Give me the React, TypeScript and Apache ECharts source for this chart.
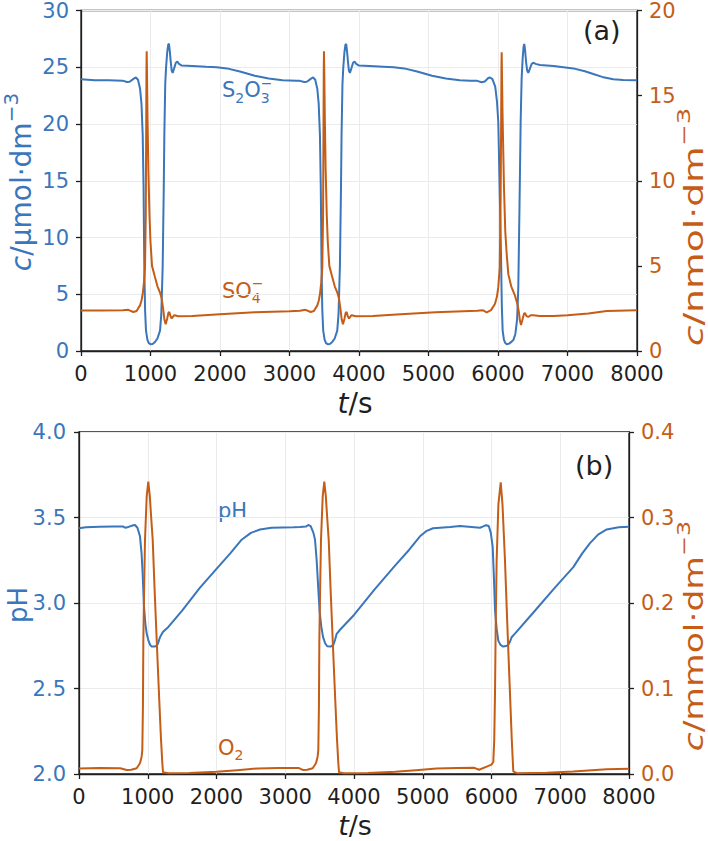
import React, { useEffect, useRef } from "react";
import * as echarts from "echarts";

const FONT = "DejaVu Sans";
const BLUE = "#3a76bb";
const ORANGE = "#c55d17";
const INK = "#1f1f1f";
const GRIDLINE = "#ebebeb";

// ---- panel (a): thiosulfate (µmol/dm3, left axis) ----
const tS2O3 = [
  0, 200, 400, 600, 660, 700, 760, 790, 820, 850, 870, 888, 900, 911, 922, 935, 955, 975, 1000, 1030,
  1065, 1100, 1137, 1155, 1175, 1190, 1199, 1212, 1223, 1240, 1255, 1266, 1278, 1291, 1305, 1319, 1340,
  1365, 1386, 1410, 1449, 1600, 1800, 1953, 2100, 2300, 2500, 2700, 2900, 3100,
  3150, 3210, 3250, 3310, 3340, 3370, 3400, 3420, 3438, 3450, 3461, 3472, 3485, 3505, 3525, 3550, 3580,
  3615, 3650, 3687, 3705, 3725, 3740, 3749, 3762, 3773, 3790, 3805, 3816, 3828, 3841, 3855, 3869, 3890,
  3915, 3936, 3960, 3999, 4150, 4350, 4500, 4650, 4850, 5050, 5250, 5450, 5600, 5700,
  5765, 5810, 5860, 5885, 5920, 5960, 5985, 6004, 6020, 6043, 6055, 6067, 6085, 6105, 6125, 6160, 6200,
  6221, 6250, 6275, 6292, 6310, 6326, 6340, 6355, 6368, 6378, 6390, 6405, 6420, 6436, 6460, 6485, 6508,
  6540, 6604, 6800, 7084, 7250, 7371, 7500, 7659, 7800, 8000,
];
const s2o3 = [
  23.95, 23.85, 23.85, 23.82, 23.7, 23.72, 24.0, 24.1, 23.9, 23.1, 21.8, 19.0, 14.5, 7.4, 3.6, 1.8, 1.0, 0.7, 0.6, 0.62,
  0.8, 1.1, 1.8, 3.2, 7.4, 14.0, 19.0, 23.5, 24.9, 26.3, 27.0, 27.06, 26.4, 25.5, 24.7, 24.5, 24.9,
  25.4, 25.5, 25.3, 25.15, 25.12, 25.05, 25.0, 24.9, 24.6, 24.25, 24.0, 23.85, 23.8,
  23.8, 23.7, 23.72, 24.0, 24.1, 23.9, 23.1, 21.8, 19.0, 14.5, 7.4, 3.6, 1.8, 1.0, 0.7, 0.6, 0.62,
  0.8, 1.1, 1.8, 3.2, 7.4, 14.0, 19.0, 23.5, 24.9, 26.3, 27.0, 27.04, 26.4, 25.5, 24.7, 24.5, 24.9,
  25.4, 25.5, 25.3, 25.15, 25.12, 25.05, 25.0, 24.9, 24.6, 24.25, 24.0, 23.85, 23.82, 23.8,
  23.68, 23.75, 24.05, 24.1, 23.95, 23.3, 22.0, 20.2, 15.5, 8.6, 4.0, 1.8, 1.0, 0.7, 0.6, 0.65, 0.85,
  0.96, 1.5, 2.8, 5.6, 13.0, 20.2, 24.0, 25.8, 26.8, 27.06, 26.5, 25.4, 24.7, 24.5, 24.9, 25.3, 25.4,
  25.3, 25.2, 25.1, 24.9, 24.65, 24.4, 24.15, 23.95, 23.88, 23.86,
];

// ---- panel (a): sulfate (nmol/dm3, right axis) ----
const tSO4 = [
  0, 300, 600, 680, 753, 800, 849, 870, 888, 905, 921, 932, 938, 942, 945, 950, 958, 969, 985, 1000,
  1022, 1060, 1100, 1140, 1160, 1185, 1200, 1218, 1240, 1258, 1270, 1288, 1305, 1322, 1338, 1360, 1400,
  1600, 2000, 2500, 3000, 3150,
  3231, 3304, 3351, 3400, 3421, 3439, 3456, 3472, 3483, 3489, 3493, 3496, 3501, 3509, 3520, 3536, 3551,
  3573, 3611, 3651, 3691, 3711, 3736, 3751, 3769, 3791, 3809, 3821, 3839, 3856, 3873, 3889, 3911, 3951,
  4200, 4600, 5100, 5500, 5700,
  5780, 5837, 5900, 5957, 5985, 6004, 6025, 6038, 6046, 6050, 6053, 6058, 6065, 6086, 6105, 6125, 6149,
  6190, 6240, 6278, 6300, 6315, 6331, 6355, 6375, 6388, 6410, 6436, 6470, 6508, 6600, 6800, 7000, 7300,
  7564, 8000,
];
const so4 = [
  2.38, 2.38, 2.4, 2.42, 2.29, 2.35, 2.68, 2.95, 3.36, 4.0, 4.9, 8.0, 13.0, 16.5, 17.6, 16.2, 13.5, 10.7, 8.0, 6.4,
  5.0, 4.4, 3.8, 3.4, 3.1, 2.39, 1.85, 1.57, 1.9, 2.25, 2.29, 2.05, 1.91, 2.0, 2.1, 2.08, 2.04,
  2.06, 2.16, 2.28, 2.34, 2.36,
  2.42, 2.29, 2.35, 2.68, 2.95, 3.36, 4.0, 4.9, 8.0, 13.0, 16.5, 17.6, 16.2, 13.5, 10.7, 8.0, 6.4,
  5.0, 4.4, 3.8, 3.4, 3.1, 2.39, 1.85, 1.57, 1.9, 2.25, 2.29, 2.05, 1.91, 2.0, 2.1, 2.08, 2.04,
  2.06, 2.16, 2.28, 2.34, 2.36,
  2.4, 2.27, 2.4, 2.78, 3.2, 3.75, 4.9, 9.0, 14.0, 16.8, 17.55, 16.0, 14.0, 9.6, 7.0, 5.7, 4.5,
  3.8, 3.3, 2.78, 2.3, 1.8, 1.52, 1.9, 2.2, 2.23, 2.05, 2.0, 2.1, 2.1, 2.05, 2.05, 2.1, 2.2,
  2.35, 2.39,
];

// ---- panel (b): pH (left axis) ----
const tPH = [
  0, 100, 300, 500, 645, 670, 720, 790, 815, 850, 887, 910, 926, 945, 965, 985, 1010, 1035, 1057, 1100,
  1130, 1150, 1178, 1220, 1300, 1500, 1760, 2000, 2200, 2366, 2500, 2633, 2800, 3118, 3215,
  3300, 3335, 3370, 3410, 3433, 3457, 3481, 3500, 3525, 3550, 3580, 3610, 3660, 3700, 3725, 3748, 3800,
  4000, 4300, 4600, 4800, 4960, 5050, 5150, 5400, 5542, 5833,
  5880, 5920, 5960, 5990, 6017, 6035, 6051, 6075, 6099, 6130, 6172, 6210, 6244, 6270, 6293, 6350, 6600,
  6900, 7190, 7320, 7433, 7550, 7676, 7850, 8000,
];
const ph = [
  3.437, 3.443, 3.446, 3.447, 3.447, 3.44, 3.445, 3.455, 3.456, 3.44, 3.39, 3.29, 3.17, 2.98, 2.88, 2.82, 2.78, 2.755, 2.745, 2.745,
  2.75, 2.765, 2.8, 2.83, 2.86, 2.955, 3.09, 3.2, 3.29, 3.37, 3.41, 3.43, 3.44, 3.443, 3.445,
  3.447, 3.456, 3.45, 3.41, 3.37, 3.25, 3.08, 2.95, 2.86, 2.8, 2.765, 2.747, 2.745, 2.755, 2.785, 2.82, 2.845,
  2.93, 3.08, 3.22, 3.31, 3.39, 3.42, 3.437, 3.445, 3.45, 3.44,
  3.448, 3.455, 3.45, 3.41, 3.33, 3.15, 2.96, 2.85, 2.78, 2.755, 2.745, 2.748, 2.755, 2.775, 2.8, 2.825, 2.94,
  3.08, 3.21, 3.29, 3.35, 3.4, 3.43, 3.443, 3.446,
];

// ---- panel (b): dissolved oxygen (mmol/dm3, right axis) ----
const tO2 = [
  0, 300, 600, 694, 760, 839, 887, 910, 921, 930, 936, 948, 960, 985, 1008, 1030, 1050, 1072, 1100, 1130,
  1160, 1190, 1210, 1222, 1300, 1600, 2000, 2300, 2600, 2900, 3200,
  3254, 3320, 3399, 3447, 3470, 3481, 3490, 3496, 3508, 3520, 3545, 3568, 3590, 3610, 3632, 3660, 3690,
  3720, 3750, 3770, 3782, 3850, 4200, 4600, 4900, 5200, 5500, 5750,
  5820, 5930, 6000, 6026, 6040, 6051, 6062, 6075, 6100, 6134, 6160, 6196, 6230, 6269, 6295, 6317, 6366,
  6800, 7190, 7676, 8000,
];
const o2 = [
  0.0065, 0.007, 0.0068, 0.0047, 0.005, 0.0067, 0.0125, 0.02, 0.028, 0.08, 0.157, 0.22, 0.274, 0.325, 0.342, 0.325, 0.3, 0.274, 0.215, 0.157,
  0.1, 0.045, 0.015, 0.002, 0.0008, 0.0012, 0.0025, 0.0045, 0.0065, 0.007, 0.007,
  0.0047, 0.005, 0.0067, 0.0125, 0.02, 0.028, 0.08, 0.157, 0.22, 0.274, 0.325, 0.342, 0.325, 0.3, 0.274, 0.215, 0.157,
  0.1, 0.045, 0.015, 0.002, 0.0008, 0.0012, 0.0025, 0.0045, 0.0065, 0.007, 0.0072,
  0.005, 0.0086, 0.011, 0.014, 0.04, 0.094, 0.18, 0.25, 0.315, 0.341, 0.315, 0.25, 0.175, 0.094, 0.04, 0.003, 0.001,
  0.0015, 0.003, 0.0055, 0.006,
];

const zip = (t: number[], v: number[]) => t.map((x, i) => [x, v[i]]);

// ---- text helpers: inline pieces laid out with measured widths ----
let measureCtx: CanvasRenderingContext2D | null = null;
function textWidth(s: string, size: number, italic?: boolean) {
  if (!measureCtx) measureCtx = document.createElement("canvas").getContext("2d");
  if (!measureCtx) return s.length * size * 0.6;
  measureCtx.font = `${italic ? "italic " : ""}${size}px "${FONT}"`;
  return measureCtx.measureText(s).width;
}

type Piece = { s: string; size: number; dy?: number; italic?: boolean; stack?: boolean };

function inlineLabel(
  pieces: Piece[],
  x: number,
  y: number,
  color: string,
  opts: { rotate?: boolean; anchor?: "start" | "middle"; stretch?: number } = {}
) {
  const { rotate = false, anchor = "start", stretch = 1 } = opts;
  let cursor = 0;
  let lastStart = 0;
  const items: any[] = [];
  for (const p of pieces) {
    const start = p.stack ? lastStart : cursor;
    const w = textWidth(p.s, p.size, p.italic);
    items.push({ p, start });
    lastStart = start;
    cursor = Math.max(cursor, start + w);
  }
  const shift = anchor === "middle" ? -cursor / 2 : 0;
  const children = items.map(({ p, start }) => ({
    type: "text",
    x: start + shift,
    y: p.dy ?? 0,
    silent: true,
    style: {
      text: p.s,
      fill: color,
      fontSize: p.size,
      fontFamily: FONT,
      fontStyle: p.italic ? "italic" : "normal",
      textAlign: "left",
      textVerticalAlign: "middle",
      align: "left",
      verticalAlign: "middle",
    },
  }));
  return {
    type: "group",
    x,
    y,
    rotation: rotate ? Math.PI / 2 : 0,
    scaleX: stretch,
    children,
  };
}

function buildOption() {
  const axisLine = { show: true, lineStyle: { color: INK, width: 1.3 } };
  const axisTick = { show: true, inside: false, length: 5, lineStyle: { color: INK, width: 1.3 } };
  const split = { show: true, lineStyle: { color: GRIDLINE, width: 1 } };
  const tickFont = { fontSize: 21, fontFamily: FONT };

  const xAxisFor = (gridIndex: number) => ({
    gridIndex,
    type: "value",
    min: 0,
    max: 8000,
    interval: 1000,
    axisLine,
    axisTick,
    splitLine: split,
    axisLabel: { ...tickFont, color: INK, margin: 12, formatter: (v: number) => String(v) },
  });

  const fixed1 = (v: number) => v.toFixed(1);

  return {
    animation: false,
    backgroundColor: "#ffffff",
    textStyle: { fontFamily: FONT },
    grid: [
      { left: 81, top: 8, width: 556, height: 343, show: true, borderColor: INK, borderWidth: 1.3, backgroundColor: "transparent" },
      { left: 79, top: 432, width: 550, height: 342, show: true, borderColor: INK, borderWidth: 1.3, backgroundColor: "transparent" },
    ],
    xAxis: [xAxisFor(0), xAxisFor(1)],
    yAxis: [
      {
        gridIndex: 0, type: "value", position: "left", min: 0, max: 30, interval: 5,
        axisLine, axisTick, splitLine: split,
        axisLabel: { ...tickFont, color: BLUE, margin: 12 },
      },
      {
        gridIndex: 0, type: "value", position: "right", min: 0, max: 20, interval: 5,
        axisLine, axisTick, splitLine: { show: false },
        axisLabel: { ...tickFont, color: ORANGE, margin: 12 },
      },
      {
        gridIndex: 1, type: "value", position: "left", min: 2, max: 4, interval: 0.5,
        axisLine, axisTick, splitLine: split,
        axisLabel: { ...tickFont, color: BLUE, margin: 13, formatter: fixed1 },
      },
      {
        gridIndex: 1, type: "value", position: "right", min: 0, max: 0.4, interval: 0.1,
        axisLine, axisTick, splitLine: { show: false },
        axisLabel: { ...tickFont, color: ORANGE, margin: 12, formatter: fixed1 },
      },
    ],
    series: [
      { name: "S2O3", type: "line", xAxisIndex: 0, yAxisIndex: 0, data: zip(tS2O3, s2o3), showSymbol: false, symbol: "none", lineStyle: { color: BLUE, width: 2 }, itemStyle: { color: BLUE }, z: 2 },
      { name: "SO4", type: "line", xAxisIndex: 0, yAxisIndex: 1, data: zip(tSO4, so4), showSymbol: false, symbol: "none", lineStyle: { color: ORANGE, width: 2 }, itemStyle: { color: ORANGE }, z: 3 },
      { name: "pH", type: "line", xAxisIndex: 1, yAxisIndex: 2, data: zip(tPH, ph), showSymbol: false, symbol: "none", lineStyle: { color: BLUE, width: 2 }, itemStyle: { color: BLUE }, z: 2 },
      { name: "O2", type: "line", xAxisIndex: 1, yAxisIndex: 3, data: zip(tO2, o2), showSymbol: false, symbol: "none", lineStyle: { color: ORANGE, width: 2 }, itemStyle: { color: ORANGE }, z: 3 },
    ],
    graphic: [
      // axis titles
      inlineLabel([{ s: "c", size: 28, italic: true }, { s: "/μmol·dm", size: 28 }, { s: "−3", size: 20, dy: -10 }], 21, 182, BLUE, { rotate: true, anchor: "middle" }),
      inlineLabel([{ s: "c", size: 26, italic: true }, { s: "/nmol·dm", size: 26 }, { s: "−3", size: 18, dy: -10 }], 694, 227, ORANGE, { rotate: true, anchor: "middle", stretch: 1.45 }),
      inlineLabel([{ s: "pH", size: 26 }], 18, 605, BLUE, { rotate: true, anchor: "middle" }),
      inlineLabel([{ s: "c", size: 26, italic: true }, { s: "/mmol·dm", size: 26 }, { s: "−3", size: 18, dy: -10 }], 694, 636, ORANGE, { rotate: true, anchor: "middle", stretch: 1.33 }),
      inlineLabel([{ s: "t", size: 28, italic: true }, { s: "/s", size: 28 }], 355, 403, INK, { anchor: "middle" }),
      inlineLabel([{ s: "t", size: 27, italic: true }, { s: "/s", size: 27 }], 355, 825, INK, { anchor: "middle" }),
      // panel tags
      inlineLabel([{ s: "(a)", size: 27 }], 583, 30, INK),
      inlineLabel([{ s: "(b)", size: 27 }], 575, 465, INK),
      // curve labels
      inlineLabel(
        [
          { s: "S", size: 21 },
          { s: "2", size: 14, dy: 8 },
          { s: "O", size: 21 },
          { s: "3", size: 14, dy: 8 },
          { s: "−", size: 14, dy: -7, stack: true },
        ],
        222, 90, BLUE
      ),
      inlineLabel(
        [
          { s: "SO", size: 21 },
          { s: "4", size: 14, dy: 7 },
          { s: "−", size: 14, dy: -8, stack: true },
        ],
        222, 291, ORANGE
      ),
      inlineLabel([{ s: "pH", size: 21 }], 218, 511, BLUE),
      inlineLabel([{ s: "O", size: 21 }, { s: "2", size: 14, dy: 6.5 }], 218, 748, ORANGE),
    ],
  };
}

export default function App() {
  const ref = useRef<HTMLDivElement>(null);
  useEffect(() => {
    if (!ref.current) return;
    const chart = echarts.init(ref.current, null, { renderer: "svg" });
    chart.setOption(buildOption() as any);
    return () => chart.dispose();
  }, []);
  return (
    <div
      ref={ref}
      style={{ position: "fixed", left: 0, top: 0, width: 708, height: 841, background: "#ffffff" }}
    />
  );
}
